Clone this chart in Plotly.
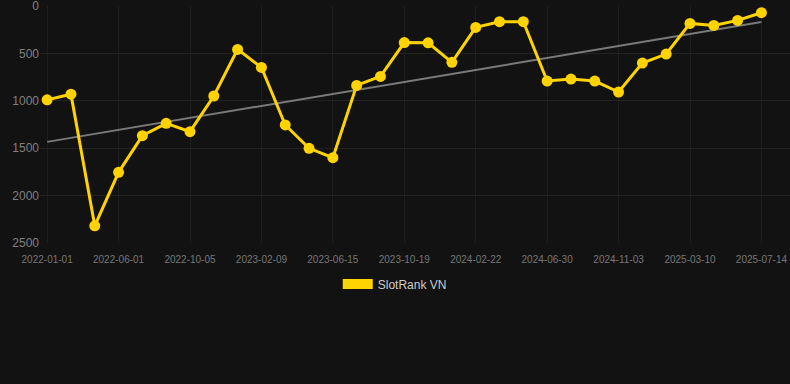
import numpy as np
import plotly.graph_objects as go

dates = [
    "2022-01-01", "2022-03-12", "2022-04-21", "2022-06-01", "2022-07-13", "2022-08-24",
    "2022-10-05", "2022-11-16", "2022-12-28", "2023-02-09", "2023-03-23", "2023-05-04",
    "2023-06-15", "2023-07-27", "2023-09-07", "2023-10-19", "2023-11-30", "2024-01-11",
    "2024-02-22", "2024-04-04", "2024-05-17", "2024-06-30", "2024-08-11", "2024-09-22",
    "2024-11-03", "2024-12-15", "2025-01-27", "2025-03-10", "2025-04-21", "2025-06-02",
    "2025-07-14",
]
ranks = [
    990, 930, 2320, 1755, 1368, 1238, 1326, 949, 457, 647, 1255, 1501, 1600, 837, 742,
    385, 388, 594, 225, 165, 165, 791, 770, 791, 907, 601, 506, 183, 204, 151, 70,
]
series_name = "SlotRank VN"
tick_labels = dates[::3]
y_ticks = [0, 500, 1000, 1500, 2000, 2500]

idx = np.arange(len(ranks))
slope, intercept = np.polyfit(idx, ranks, 1)
trend = slope * idx + intercept

GOLD = "#FFD300"

fig = go.Figure()
fig.add_trace(go.Scatter(
    x=dates, y=trend, mode="lines",
    line=dict(color="#7a7a7a", width=2),
    showlegend=False, hoverinfo="skip",
))
fig.add_trace(go.Scatter(
    x=dates, y=ranks, mode="lines+markers",
    line=dict(color=GOLD, width=3),
    marker=dict(color=GOLD, size=11),
    showlegend=False, cliponaxis=False,
))
fig.add_trace(go.Scatter(
    x=[None], y=[None], mode="lines",
    line=dict(color=GOLD, width=11),
    name=series_name, showlegend=True,
))

fig.update_layout(
    width=790, height=384,
    paper_bgcolor="#121212", plot_bgcolor="#121212",
    margin=dict(l=40, r=0, t=6, b=141),
    font=dict(family="Arial, Liberation Sans, sans-serif", color="#888"),
    xaxis=dict(
        type="category", categoryorder="array", categoryarray=dates,
        range=[-0.3, 31.2],
        tickmode="array", tickvals=tick_labels, ticktext=tick_labels,
        tickfont=dict(size=10, color="#777"),
        ticklabelstandoff=9,
        showgrid=True, gridcolor="#1e1e1e", gridwidth=1,
        zeroline=False, showline=False, ticks="",
    ),
    yaxis=dict(
        range=[2501, -1],
        tickmode="array", tickvals=y_ticks, ticktext=[str(v) for v in y_ticks],
        tickfont=dict(size=12, color="#808080"),
        ticklabeloverflow="allow",
        showgrid=True, gridcolor="#222", gridwidth=1,
        zeroline=False, showline=False, ticks="",
    ),
    legend=dict(
        orientation="h", x=0.473, xanchor="center", y=-0.173, yanchor="middle",
        font=dict(size=12, color="#ccc"), bgcolor="rgba(0,0,0,0)",
    ),
    showlegend=True,
)

fig.write_html(
    "out.html",
    config={"displayModeBar": False},
    post_script="document.body.style.margin='0';document.body.style.background='#121212';",
)
